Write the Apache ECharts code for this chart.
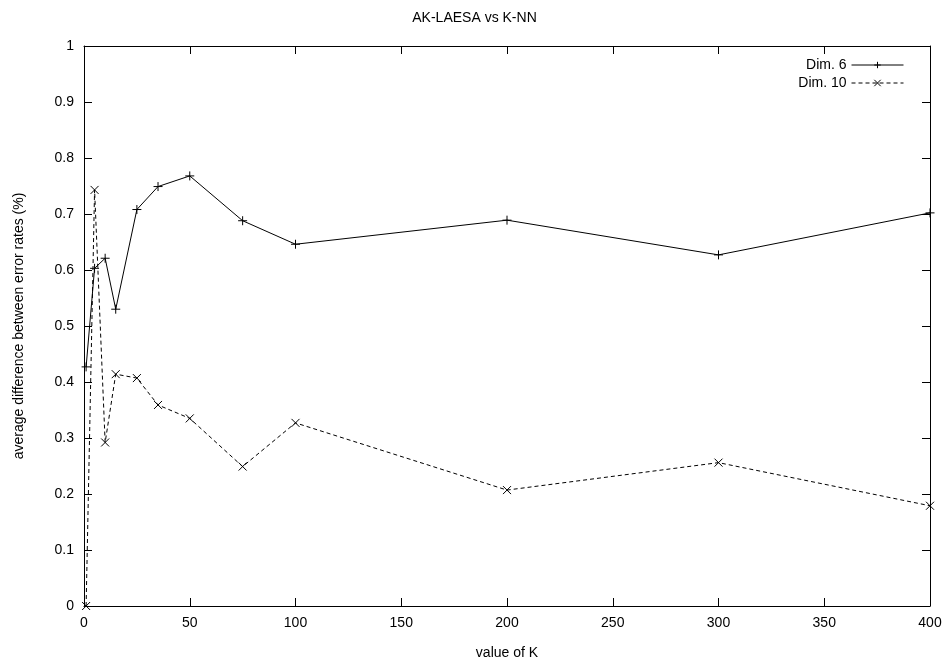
<!DOCTYPE html>
<html>
<head>
<meta charset="utf-8">
<script src="https://cdn.jsdelivr.net/npm/echarts@6/dist/echarts.min.js"></script>
<style>
  html, body { margin: 0; padding: 0; background: #fff; }
  #main { width: 949px; height: 668px; }
</style>
</head>
<body>
<div id="main"></div>
<script>
// values of K on the x axis
var kValues = [1, 5, 10, 15, 25, 35, 50, 75, 100, 200, 300, 400];
// average difference for each dimension
var dim6  = [0.427, 0.603, 0.621, 0.530, 0.708, 0.749, 0.768, 0.688, 0.646, 0.689, 0.627, 0.702];
var dim10 = [0.000, 0.743, 0.292, 0.414, 0.407, 0.359, 0.335, 0.249, 0.327, 0.207, 0.256, 0.179];

var fontFamily = '"Liberation Sans", Arial, sans-serif';
var plusSymbol = 'path://M0,5L10,5M5,0L5,10';
var crossSymbol = 'path://M0,0L10,10M0,10L10,0';

function pairs(xs, ys) {
  return xs.map(function (x, i) { return [x, ys[i]]; });
}

var chart = echarts.init(document.getElementById('main'));

// 坐标轴公共样式 (gnuplot风格: 刻度朝内, 四边都有)
function xAxisCfg(pos, showLabel) {
  return {
    type: 'value', position: pos, min: 0, max: 400, interval: 50,
    name: showLabel ? 'value of K' : '', nameLocation: 'middle', nameGap: 40,
    nameTextStyle: { color: '#000', fontSize: 14, fontFamily: fontFamily },
    axisLine: { show: true, onZero: false, lineStyle: { color: '#000', width: 1 } },
    axisTick: { show: true, inside: true, length: 8, lineStyle: { color: '#000' } },
    axisLabel: { show: showLabel, color: '#000', fontSize: 14, fontFamily: fontFamily, margin: 10 },
    splitLine: { show: false }
  };
}
function yAxisCfg(pos, showLabel) {
  return {
    type: 'value', position: pos, min: 0, max: 1, interval: 0.1,
    name: showLabel ? 'average difference between error rates (%)' : '',
    nameLocation: 'middle', nameGap: 58,
    nameTextStyle: { color: '#000', fontSize: 14, fontFamily: fontFamily },
    axisLine: { show: true, onZero: false, lineStyle: { color: '#000', width: 1 } },
    axisTick: { show: true, inside: true, length: 8, lineStyle: { color: '#000' } },
    axisLabel: {
      show: showLabel, color: '#000', fontSize: 14, fontFamily: fontFamily, margin: 10,
      formatter: function (v) { return String(Math.round(v * 10) / 10); }
    },
    splitLine: { show: false }
  };
}

var legendText = { color: '#000', fontSize: 14, fontFamily: fontFamily };

chart.setOption({
  animation: false,
  backgroundColor: '#fff',
  title: {
    text: 'AK-LAESA vs K-NN', left: 'center', top: 6,
    textStyle: { color: '#000', fontSize: 14, fontWeight: 'normal', fontFamily: fontFamily }
  },
  grid: { left: 84, right: 19, top: 46, bottom: 62 },
  legend: [
    { data: ['Dim. 6'], orient: 'vertical', right: 40, top: 53, align: 'right',
      itemWidth: 52, itemHeight: 8, itemGap: 4, textStyle: legendText,
      itemStyle: { borderWidth: 1 }, lineStyle: { width: 1 } },
    { data: ['Dim. 10'], orient: 'vertical', right: 40, top: 71, align: 'right',
      itemWidth: 52, itemHeight: 8, itemGap: 4, textStyle: legendText,
      itemStyle: { borderWidth: 1 }, lineStyle: { width: 1 } }
  ],
  xAxis: [xAxisCfg('bottom', true), xAxisCfg('top', false)],
  yAxis: [yAxisCfg('left', true), yAxisCfg('right', false)],
  series: [
    {
      name: 'Dim. 6', type: 'line', data: pairs(kValues, dim6),
      symbol: plusSymbol, symbolSize: 9, showAllSymbol: true,
      lineStyle: { color: '#000', width: 1 },
      itemStyle: { color: '#000', borderColor: '#000', borderWidth: 1 }
    },
    {
      name: 'Dim. 10', type: 'line', data: pairs(kValues, dim10),
      symbol: crossSymbol, symbolSize: 8, showAllSymbol: true,
      lineStyle: { color: '#000', width: 1, type: [4, 3] },
      itemStyle: { color: '#000', borderColor: '#000', borderWidth: 1 }
    }
  ]
});
</script>
</body>
</html>
